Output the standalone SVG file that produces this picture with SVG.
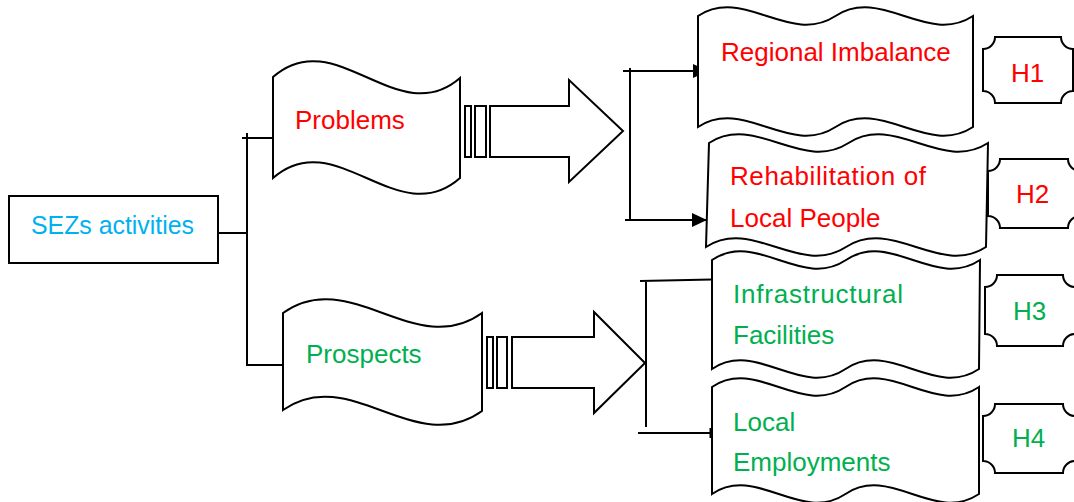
<svg xmlns="http://www.w3.org/2000/svg" width="1074" height="502" viewBox="0 0 1074 502">
<style>
.sh{fill:#fff;stroke:#000;stroke-width:2;stroke-linejoin:miter}
.ln{fill:none;stroke:#000;stroke-width:2}
.t{font-family:"Liberation Sans",Arial,sans-serif;font-size:26px}
.red{fill:#FF0000}.grn{fill:#00B050}.blu{fill:#00B0F0}
</style>
<defs>
<marker id="ah" viewBox="0 0 15 14" refX="15" refY="7" markerWidth="15" markerHeight="14" markerUnits="userSpaceOnUse" orient="auto">
<path d="M0,0 L15,7 L0,14 Z" fill="#000"/>
</marker>
</defs>
<rect width="1074" height="502" fill="#fff"/>
<g id="connectors">
<path class="ln" d="M218,233 H247 M247,133 V366 M242,138 H276 M247,365 H283"/>
<path class="ln" d="M630,68 V220 M623,71 H630"/>
<path class="ln" d="M630,71 H708" marker-end="url(#ah)"/>
<path class="ln" d="M625,220 H707" marker-end="url(#ah)"/>
<path class="ln" d="M646,281 V427 M640,281 L712,279.5 M638,433 H711"/>
<path d="M711,428 V438" stroke="#000" stroke-width="3"/>
</g>
<g id="node-sez">
<rect class="sh" x="9" y="196" width="209" height="67"/>
<text class="t blu" x="31" y="234" font-size="25" textLength="163" lengthAdjust="spacingAndGlyphs">SEZs activities</text>
</g>
<g id="node-problems">
<path class="sh" d="M273,77 C335.3,22 397.7,132 460,78 L460,178 C397.7,233 335.3,123 273,178 Z"/>
<text class="t red" x="295" y="129">Problems</text>
</g>
<g id="arrow-problems">
<rect class="sh" x="465" y="106" width="6" height="51"/>
<rect class="sh" x="475" y="106" width="11" height="51"/>
<path class="sh" d="M490,106 L569,106 L569,80 L623,131 L569,182 L569,157 L490,157 Z"/>
</g>
<g id="node-prospects">
<path class="sh" d="M283,313 C349.3,265 415.7,361 482,313 L482,411 C415.7,459 349.3,363 283,410 Z"/>
<text class="t grn" x="306" y="363">Prospects</text>
</g>
<g id="arrow-prospects">
<rect class="sh" x="487" y="337" width="6" height="51"/>
<rect class="sh" x="497" y="337" width="10" height="51"/>
<path class="sh" d="M512,337 L594,337 L594,312 L645,363 L594,413 L594,388 L512,388 Z"/>
</g>
<g id="node-regional">
<path class="sh" d="M698,16 C743.8,-14 789.7,46 835.5,16 C881.3,-14 927.2,46 973,16 L973,127 C927.2,157 881.3,97 835.5,127 C789.7,157 743.8,97 698,127 Z"/>
<text class="t red" x="721" y="61">Regional Imbalance</text>
</g>
<g id="node-rehab">
<path class="sh" d="M709,143 C755.5,113 802,173 848.5,143 C895,113 941.5,173 988,143 L986,247 C939.3,277 892.7,217 846,247 C799.3,277 752.7,217 706,247 Z"/>
<text class="t red" x="730" y="185" textLength="196" lengthAdjust="spacing">Rehabilitation of</text>
<text class="t red" x="730" y="227">Local People</text>
</g>
<g id="node-infra">
<path class="sh" d="M712,260 C756.7,230 801.3,290 846,260 C890.7,230 935.3,290 980,260 L979,369 C934.5,399 890,339 845.5,369 C801,399 756.5,339 712,369 Z"/>
<text class="t grn" x="733" y="303" textLength="170" lengthAdjust="spacing">Infrastructural</text>
<text class="t grn" x="733" y="344">Facilities</text>
</g>
<g id="node-employ">
<path class="sh" d="M712,387 C756.5,357 801,417 845.5,387 C890,357 934.5,417 979,387 L979,494 C934.5,524 890,464 845.5,494 C801,524 756.5,464 712,494 Z"/>
<text class="t grn" x="733" y="431">Local</text>
<text class="t grn" x="733" y="471">Employments</text>
</g>
<g id="node-h1">
<path class="sh" d="M995,37 L1061,37 A12,12 0 0 0 1073,49 L1073,91 A12,12 0 0 0 1061,103 L995,103 A12,12 0 0 0 983,91 L983,49 A12,12 0 0 0 995,37 Z"/>
<text class="t red" x="1011" y="82" font-size="24">H1</text>
</g>
<g id="node-h2">
<path class="sh" d="M1000,159 L1068,159 A12,12 0 0 0 1080,171 L1080,216 A12,12 0 0 0 1068,228 L1000,228 A12,12 0 0 0 988,216 L988,171 A12,12 0 0 0 1000,159 Z"/>
<text class="t red" x="1016" y="203" font-size="24">H2</text>
</g>
<g id="node-h3">
<path class="sh" d="M997,275 L1063,275 A12,12 0 0 0 1075,287 L1075,334 A12,12 0 0 0 1063,346 L997,346 A12,12 0 0 0 985,334 L985,287 A12,12 0 0 0 997,275 Z"/>
<text class="t grn" x="1013" y="320" font-size="24">H3</text>
</g>
<g id="node-h4">
<path class="sh" d="M995,404 L1063,404 A12,12 0 0 0 1075,416 L1075,461 A12,12 0 0 0 1063,473 L995,473 A12,12 0 0 0 983,461 L983,416 A12,12 0 0 0 995,404 Z"/>
<text class="t grn" x="1012" y="447" font-size="24">H4</text>
</g>
</svg>
